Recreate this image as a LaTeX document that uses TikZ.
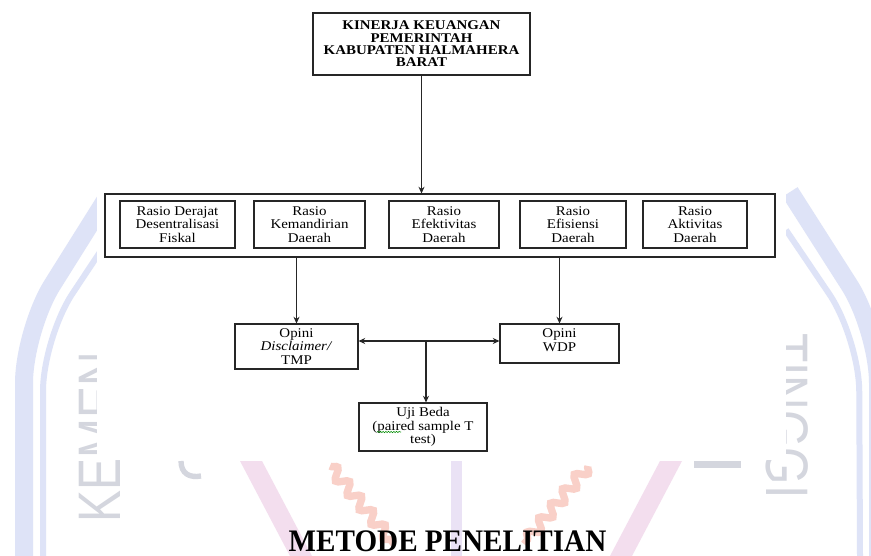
\documentclass[tikz,border=0pt]{standalone}
\usepackage{fontspec}
\setmainfont{Liberation Serif}[FakeStretch=1.12]
\newfontfamily\titlefont{Liberation Serif}[FakeStretch=0.93]
\setsansfont{Liberation Sans}
\usetikzlibrary{arrows.meta,decorations.pathmorphing}
\definecolor{wmblue}{RGB}{222,227,247}
\definecolor{wmpink}{RGB}{243,222,238}
\definecolor{wmred}{RGB}{249,208,200}
\definecolor{wmlav}{RGB}{234,226,245}
\definecolor{wmgray}{RGB}{212,214,222}
\begin{document}
\begin{tikzpicture}[x=0.75pt,y=-0.75pt,
  box/.style={draw=black!85, line width=0.8pt, rectangle, inner sep=0pt, align=center,
    font=\fontsize{10}{10.1}\selectfont},
  arr/.style={draw=black!85, line width=0.8pt, -{Stealth[length=5pt,width=4.5pt]}},
  darr/.style={draw=black!85, line width=0.8pt, {Stealth[length=5pt,width=4.5pt]}-{Stealth[length=5pt,width=4.5pt]}},
  wmletters/.style={wmgray, inner sep=0pt, font=\fontsize{45}{45}\sffamily}]
\useasboundingbox (0,0) rectangle (871,556);
\fill[white] (0,0) rectangle (871,556);
% ---------- faint watermark ----------
\draw[wmblue, line width=13.5pt, rounded corners=40pt] (108,196) -- (24,330) -- (24,556);
\draw[wmblue, line width=4.5pt, rounded corners=40pt] (104,246) -- (43,338) -- (43,556);
\draw[wmblue, line width=13.5pt, rounded corners=40pt] (790,192) -- (878,330) -- (878,556);
\draw[wmblue, line width=4.5pt, rounded corners=40pt] (786,230) -- (859,338) -- (860,556);
\node[wmletters, rotate=90, anchor=base west] (wml) at (120,523) {\scalebox{0.8}[1]{KEMEN}};
\node[wmletters, rotate=-90, anchor=base west] (wmr) at (766,333) {\scalebox{0.8}[1]{TINGGI}};
\fill[wmpink] (240,461) -- (262,461) -- (312,556) -- (290,556) -- cycle;
\fill[wmpink] (660,461) -- (682,461) -- (632,556) -- (610,556) -- cycle;
\fill[wmlav] (451,461) rectangle (462,556);
\draw[wmred, line width=5.5pt, decorate, decoration={snake, amplitude=4pt, segment length=14pt}] (330,466) -- (394,544);
\draw[wmred, line width=5.5pt, decorate, decoration={snake, amplitude=4pt, segment length=14pt}] (588,466) -- (524,544);
\fill[white] (97,0) rectangle (786,460);
\draw[wmgray, line width=4pt] (181,461) .. controls (181,474) and (190,478) .. (201,476);
\fill[wmgray] (694,461) rectangle (741,468);
% ---------- diagram ----------
\node[box, minimum width=162.75pt, minimum height=46.5pt,
  font=\fontsize{10}{9.3}\selectfont\bfseries] (top) at (421.5,44)
  {KINERJA KEUANGAN\\PEMERINTAH\\KABUPATEN HALMAHERA\\BARAT};
\node[box, minimum width=502.5pt, minimum height=47.25pt] (big) at (440,225.5) {};
\node[box, minimum width=86.25pt, minimum height=35.25pt] (b1) at (177.5,224.5) {Rasio Derajat\\Desentralisasi\\Fiskal};
\node[box, minimum width=83.25pt, minimum height=35.25pt] (b2) at (309.5,224.5) {Rasio\\Kemandirian\\Daerah};
\node[box, minimum width=82.5pt, minimum height=35.25pt] (b3) at (444,224.5) {Rasio\\Efektivitas\\Daerah};
\node[box, minimum width=79.5pt, minimum height=35.25pt] (b4) at (573,224.5) {Rasio\\Efisiensi\\Daerah};
\node[box, minimum width=78pt, minimum height=35.25pt] (b5) at (695,224.5) {Rasio\\Aktivitas\\Daerah};
\node[box, minimum width=92.25pt, minimum height=33.75pt] (opl) at (296.5,346.5) {Opini\\\textit{Disclaimer/}\\TMP};
\node[box, minimum width=89.25pt, minimum height=29.25pt] (wdp) at (559.5,343.5) {};
\node[align=center, inner sep=0pt, font=\fontsize{10}{10}\selectfont, anchor=north] (wdpt) at ([yshift=-4pt]wdp.north) {Opini\\WDP};
\node[box, minimum width=96pt, minimum height=36pt] (uji) at (423,427) {Uji Beda\\(paired sample T\\test)};
\node[font=\fontsize{23.5}{24}\titlefont\bfseries, inner sep=0pt, anchor=base] (title) at (447.5,551) {METODE PENELITIAN};
% spell-check squiggle under "paired"
\draw[green!55!black, line width=0.4pt, decorate, decoration={snake, amplitude=0.5pt, segment length=2pt}]
  ([shift={(-46,5)}]uji.center) -- ([shift={(-22,5)}]uji.center);
% ---------- connectors ----------
\coordinate (hmid) at (426,341);
\draw[arr] (top.south) -- (top.south |- big.north);
\draw[arr] (opl.north |- big.south) -- (opl.north);
\draw[arr] (wdp.north |- big.south) -- (wdp.north);
\draw[darr] (hmid -| opl.east) -- (hmid -| wdp.west);
\draw[arr] (hmid) -- (hmid |- uji.north);
\end{tikzpicture}
\end{document}
